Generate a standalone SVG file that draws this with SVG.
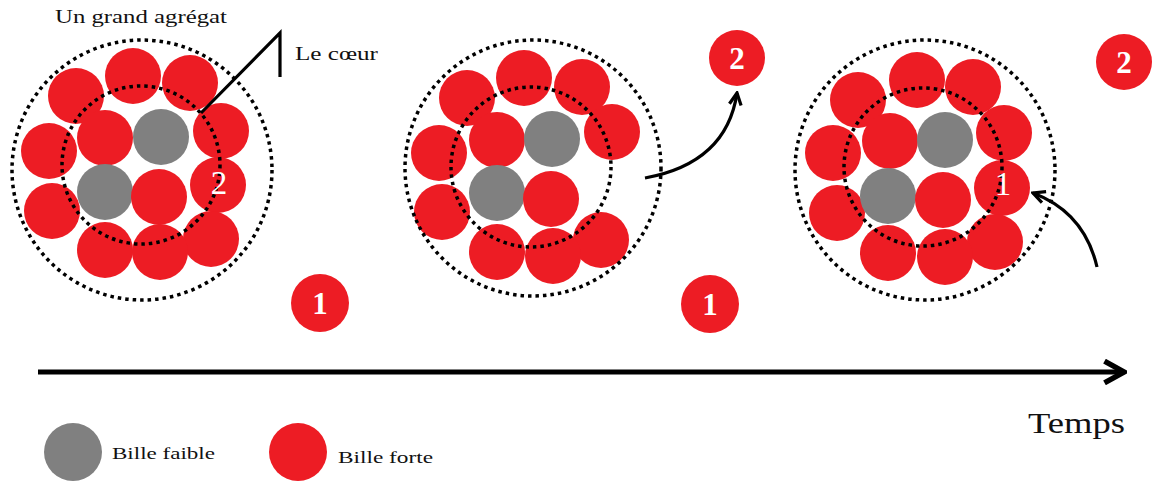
<svg xmlns="http://www.w3.org/2000/svg" width="1153" height="482" viewBox="0 0 1153 482">
<style>
.r{fill:#ED1C24}
.g{fill:#808080}
.dot{fill:none;stroke:#000;stroke-width:3.5;stroke-dasharray:3.5 4}
.t{font-family:"Liberation Serif",serif;fill:#111}
.n{font-family:"Liberation Serif",serif;fill:#fff;text-anchor:middle}
.ln{fill:none;stroke:#000;stroke-width:3.2}
</style>
<defs>
<marker id="ah" viewBox="0 0 14 14" refX="12" refY="7" markerWidth="15" markerHeight="15" markerUnits="userSpaceOnUse" orient="auto">
<path d="M1,1.5 L12,7 L1,12.5" fill="none" stroke="#000" stroke-width="3"/>
</marker>
<marker id="ah2" viewBox="0 0 24 24" refX="21" refY="12" markerWidth="26" markerHeight="26" markerUnits="userSpaceOnUse" orient="auto">
<path d="M3,2 L21,12 L3,22" fill="none" stroke="#000" stroke-width="5"/>
</marker>
</defs>
<rect width="1153" height="482" fill="#fff"/>

<g id="cluster1">
<circle class="r" cx="76" cy="96" r="28"/>
<circle class="r" cx="133" cy="76" r="28"/>
<circle class="r" cx="190" cy="83" r="28"/>
<circle class="r" cx="221" cy="131" r="28"/>
<circle class="r" cx="218" cy="185" r="28"/>
<circle class="r" cx="211" cy="239" r="28"/>
<circle class="r" cx="160" cy="252" r="28"/>
<circle class="r" cx="105" cy="250" r="28"/>
<circle class="r" cx="52" cy="211" r="28"/>
<circle class="r" cx="49" cy="151" r="28"/>
<circle class="r" cx="105" cy="138" r="28"/>
<circle class="g" cx="161" cy="137" r="28"/>
<circle class="g" cx="105" cy="192" r="28"/>
<circle class="r" cx="159" cy="197" r="28"/>
<circle class="dot" cx="142" cy="170" r="130"/>
<circle class="dot" cx="141" cy="165" r="79"/>
<text class="n" x="219" y="194" font-size="33">2</text>
<text class="t" x="55" y="23" font-size="18" textLength="172" lengthAdjust="spacingAndGlyphs">Un grand agrégat</text>
</g>

<g id="label-coeur">
<polyline class="ln" points="201,113 280,33 280,77"/>
<text class="t" x="295" y="60" font-size="19" textLength="83" lengthAdjust="spacingAndGlyphs">Le cœur</text>
</g>

<g id="cluster2">
<circle class="r" cx="467" cy="98" r="28"/>
<circle class="r" cx="524" cy="78" r="28"/>
<circle class="r" cx="582" cy="87" r="28"/>
<circle class="r" cx="612" cy="132" r="28"/>
<circle class="r" cx="601" cy="240" r="28"/>
<circle class="r" cx="553" cy="256" r="28"/>
<circle class="r" cx="497" cy="252" r="28"/>
<circle class="r" cx="442" cy="212" r="28"/>
<circle class="r" cx="439" cy="153" r="28"/>
<circle class="r" cx="497" cy="140" r="28"/>
<circle class="g" cx="552" cy="139" r="28"/>
<circle class="g" cx="497" cy="193" r="28"/>
<circle class="r" cx="551" cy="199" r="28"/>
<circle class="dot" cx="533" cy="168" r="128"/>
<circle class="dot" cx="531" cy="167" r="80"/>
</g>

<g id="cluster3">
<circle class="r" cx="858" cy="100" r="28"/>
<circle class="r" cx="917" cy="80" r="28"/>
<circle class="r" cx="973" cy="87" r="28"/>
<circle class="r" cx="1004" cy="133" r="28"/>
<circle class="r" cx="1002" cy="188" r="28"/>
<circle class="r" cx="995" cy="242" r="28"/>
<circle class="r" cx="945" cy="257" r="28"/>
<circle class="r" cx="888" cy="253" r="28"/>
<circle class="r" cx="837" cy="213" r="28"/>
<circle class="r" cx="833" cy="153" r="28"/>
<circle class="r" cx="890" cy="141" r="28"/>
<circle class="g" cx="945" cy="140" r="28"/>
<circle class="g" cx="888" cy="196" r="28"/>
<circle class="r" cx="943" cy="200" r="28"/>
<circle class="dot" cx="925" cy="170" r="130"/>
<circle class="dot" cx="923" cy="167" r="79"/>
<text class="n" x="1003" y="195" font-size="33">1</text>
</g>

<g id="free-balls">
<circle class="r" cx="320" cy="303" r="29"/>
<text class="n" x="320" y="314" font-size="31" font-weight="bold">1</text>
<circle class="r" cx="710" cy="304" r="29"/>
<text class="n" x="710" y="315" font-size="31" font-weight="bold">1</text>
<circle class="r" cx="737" cy="58" r="28"/>
<text class="n" x="737" y="69" font-size="31" font-weight="bold">2</text>
<circle class="r" cx="1124" cy="62" r="28"/>
<text class="n" x="1124" y="73" font-size="31" font-weight="bold">2</text>
</g>

<g id="connectors">
<path class="ln" d="M645,178 C700,168 730,140 737,93" marker-end="url(#ah)"/>
<path class="ln" d="M1097,267 C1088,228 1065,205 1033,193" marker-end="url(#ah)"/>
<line x1="38" y1="372" x2="1124" y2="372" stroke="#000" stroke-width="5" marker-end="url(#ah2)"/>
</g>

<g id="time-label">
<text class="t" x="1028" y="433" font-size="30" textLength="97" lengthAdjust="spacingAndGlyphs">Temps</text>
</g>

<g id="legend">
<circle class="g" cx="73" cy="452" r="29"/>
<text class="t" x="112" y="459" font-size="17" textLength="103" lengthAdjust="spacingAndGlyphs">Bille faible</text>
<circle class="r" cx="298" cy="452" r="29"/>
<text class="t" x="338" y="463" font-size="17" textLength="95" lengthAdjust="spacingAndGlyphs">Bille forte</text>
</g>
</svg>
